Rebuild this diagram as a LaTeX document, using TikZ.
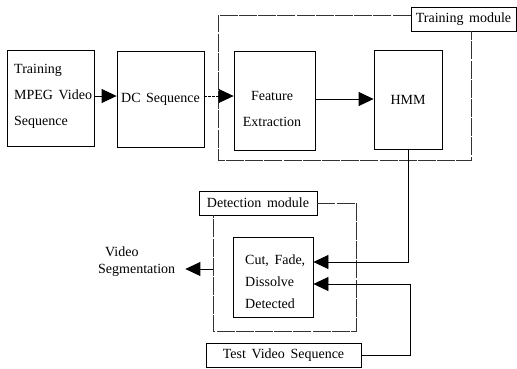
\documentclass[tikz,border=0pt]{standalone}
\usepackage{fontspec}
\setmainfont[WordSpace=1.6]{Liberation Serif}
\usetikzlibrary{arrows.meta}
\begin{document}
\begin{tikzpicture}[x=1pt,y=-1pt,
  every node/.style={font=\fontsize{14}{26}\selectfont},
  blockbox/.style={draw=black,line width=0.8pt,inner sep=0pt},
  caption/.style={inner sep=0pt,align=left},
  tag/.style={draw=black,line width=0.8pt,inner sep=0pt,minimum height=24pt},
  outline/.style={draw=black!80,line width=0.7pt,dash pattern=on 18pt off 1.2pt},
  arr/.style={line width=0.8pt,-{Triangle[length=15pt,width=14pt]}}]
\useasboundingbox (0,0) rectangle (517,368);

% processing blocks
\node[blockbox,minimum width=87pt,minimum height=96pt] (train) at (50.5,98) {};
\node[caption,anchor=west] (traintxt) at (14,96) {Training\\MPEG Video\\Sequence};
\node[blockbox,minimum width=87pt,minimum height=96pt] (dc) at (160.5,99) {DC Sequence};
\node[blockbox,minimum width=81pt,minimum height=99pt] (feat) at (274.5,100.5) {};
\node[caption,align=center] (feattxt) at (272,108.5) {Feature\\Extraction};
\node[blockbox,minimum width=68pt,minimum height=99pt] (hmm) at (408,99.5) {HMM};
\node[blockbox,minimum width=80pt,minimum height=80pt] (cut) at (273,277) {};
\node[caption,anchor=west,font=\fontsize{14}{22}\selectfont] (cuttxt) at (245,282) {Cut, Fade,\\Dissolve\\Detected};
\node[tag,minimum width=155pt] (test) at (283.5,355) {Test Video Sequence};
\node[caption,anchor=west,font=\fontsize{14}{17.5}\selectfont] (seg) at (98,261.5) {\hspace*{7pt}Video\\Segmentation};

% module labels and their frames
\node[tag,minimum width=105pt] (tmlab) at (463.5,19) {Training module};
\node[tag,minimum width=118pt] (dmlab) at (258,203) {Detection module};
\draw[outline] (tmlab.west|-0,15) -- (218,15) -- (218,160) -- (471,160) -- (471,0|-tmlab.south);
\draw[outline] (dmlab.east) -- (356,203) -- (356,331) -- (213,331) -- (213,0|-dmlab.south);

% data flow
\draw[arr] (train.east|-0,96) -- (dc.west|-0,96);
\draw[arr,dash pattern=on 3pt off 1pt] (dc.east|-0,96) -- (feat.west|-0,96);
\draw[arr] (feat.east|-0,99) -- (hmm.west|-0,99);
\draw[arr] (hmm.south) |- (cut.east|-0,262);
\draw[arr] (test.east) -| (410,284) -- (cut.east|-0,284);
\draw[arr,shorten >=10pt] (213,269) -- (seg.east|-0,269);
\end{tikzpicture}
\end{document}
